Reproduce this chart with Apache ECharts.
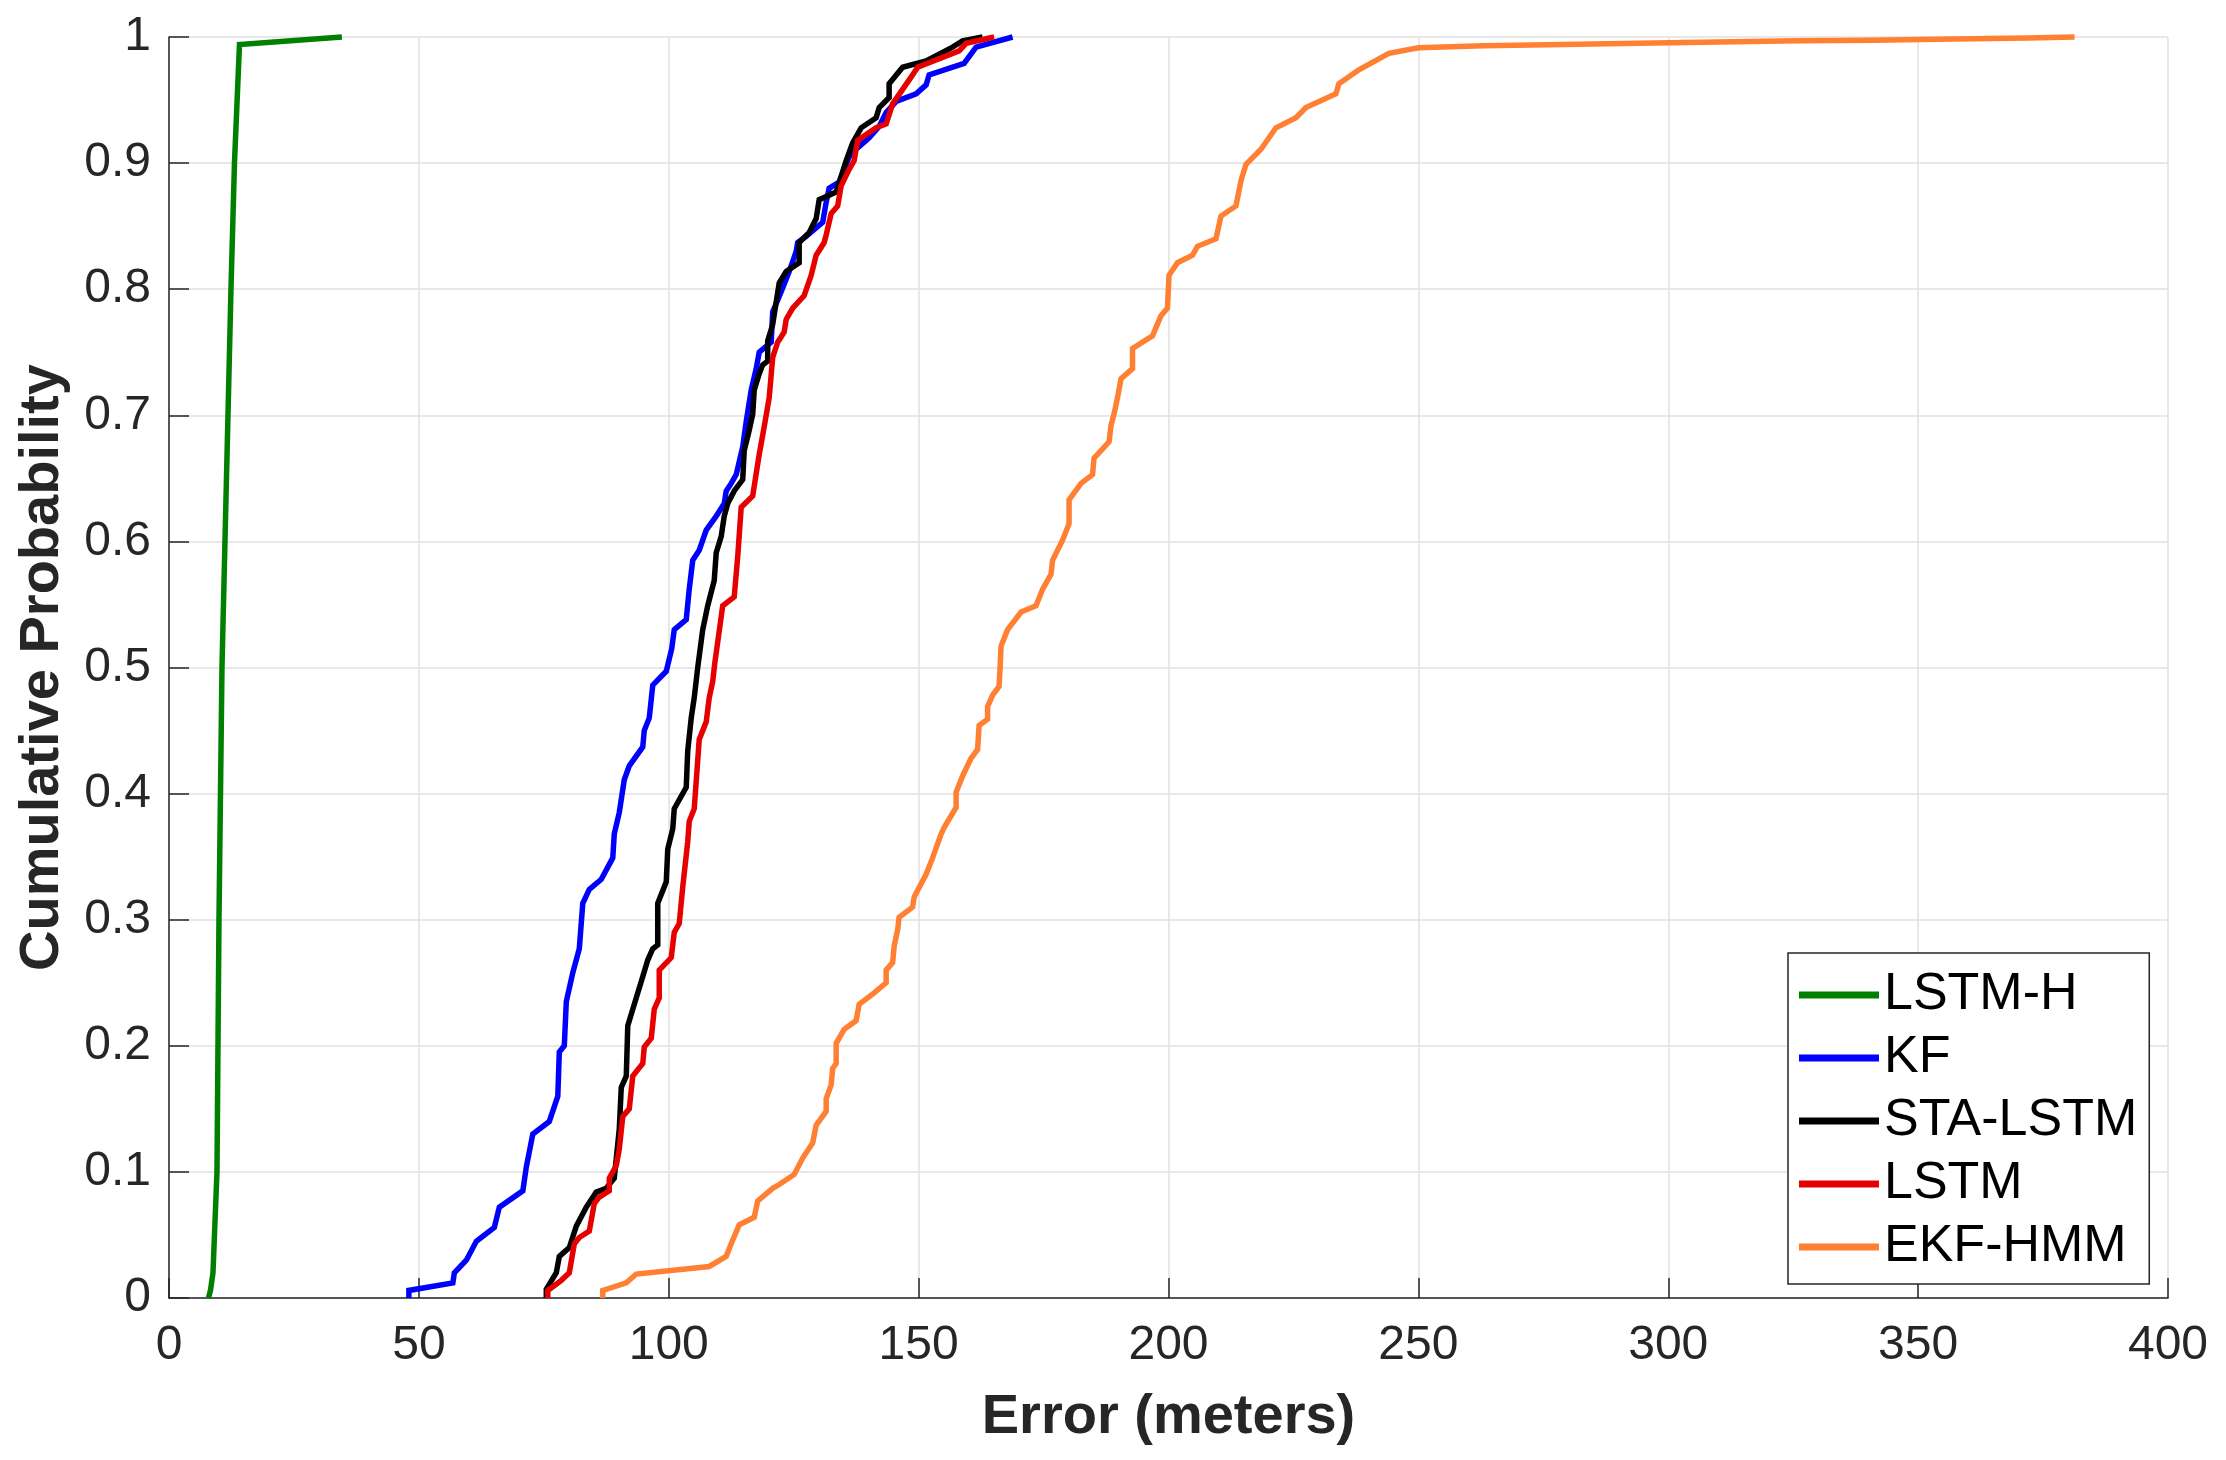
<!DOCTYPE html>
<html>
<head>
<meta charset="utf-8">
<script src="https://cdn.jsdelivr.net/npm/echarts@6/dist/echarts.min.js"></script>
<style>
html,body{margin:0;padding:0;background:#fff;}
#chart{width:2226px;height:1460px;}
</style>
</head>
<body>
<div id="chart"></div>
<script>
const seriesNames = ['LSTM-H', 'KF', 'STA-LSTM', 'LSTM', 'EKF-HMM'];
const xTicks = [0, 50, 100, 150, 200, 250, 300, 350, 400];
const yTicks = [0, 0.1, 0.2, 0.3, 0.4, 0.5, 0.6, 0.7, 0.8, 0.9, 1];

const lstmH = [[7.9,0],[8.3,0.006],[8.8,0.02],[9.6,0.1],[10.0,0.3],[10.6,0.5],[11.8,0.7],[12.4,0.8],[13.1,0.9],[14.1,0.994],[34.6,1.0]];

const kf = [[48,0],[48,0.006],[56.8,0.012],[57.1,0.02],[59.5,0.03],[61.5,0.045],[65.1,0.056],[66.1,0.072],[70.8,0.085],[71.5,0.104],[72.8,0.13],[76.1,0.14],[77.8,0.16],[78.1,0.195],[79.1,0.2],[79.5,0.235],[80.8,0.258],[82.1,0.277],[82.8,0.313],[84.1,0.324],[86.5,0.332],[88.8,0.349],[89.1,0.368],[90.1,0.385],[91.1,0.411],[92.1,0.422],[94.8,0.437],[95.1,0.45],[96.1,0.46],[96.8,0.486],[99.5,0.497],[100.6,0.515],[101.1,0.53],[103.5,0.538],[104.1,0.562],[104.8,0.585],[106.1,0.593],[107.5,0.609],[109.5,0.62],[111.1,0.63],[111.5,0.64],[112.5,0.646],[113.5,0.653],[114.8,0.675],[115.5,0.695],[116.5,0.72],[117.5,0.737],[118.1,0.75],[120.5,0.758],[120.8,0.782],[122.5,0.798],[124.1,0.814],[125.5,0.83],[125.8,0.837],[127.5,0.842],[130.8,0.853],[131.5,0.869],[132.1,0.88],[134.1,0.885],[136.1,0.905],[137.5,0.911],[140.1,0.92],[142.1,0.929],[143.5,0.94],[145.5,0.949],[149.5,0.955],[151.5,0.962],[152.1,0.97],[159.1,0.979],[161.5,0.992],[168.8,1.0]];

const staLstm = [[75.5,0],[75.5,0.007],[77.5,0.02],[78.1,0.033],[80.1,0.04],[81.5,0.057],[83.5,0.072],[85.5,0.084],[87.5,0.087],[89.1,0.095],[90.1,0.134],[90.5,0.167],[91.5,0.176],[91.8,0.216],[92.8,0.229],[94.5,0.251],[95.8,0.268],[96.8,0.277],[97.8,0.28],[97.8,0.313],[99.5,0.33],[99.8,0.356],[100.8,0.372],[101.1,0.388],[103.5,0.405],[103.8,0.434],[104.5,0.46],[105.1,0.476],[105.8,0.5],[106.8,0.53],[107.8,0.549],[109.1,0.569],[109.5,0.591],[110.5,0.604],[111.1,0.62],[111.8,0.63],[113.1,0.64],[114.8,0.649],[115.1,0.672],[116.1,0.688],[116.8,0.701],[117.1,0.72],[118.1,0.733],[118.8,0.74],[119.8,0.743],[119.8,0.759],[120.8,0.772],[122.1,0.805],[123.5,0.814],[126.1,0.821],[126.1,0.837],[128.1,0.845],[129.5,0.856],[130.1,0.871],[133.5,0.877],[135.5,0.902],[136.8,0.916],[138.5,0.928],[141.5,0.936],[142.1,0.944],[144.1,0.952],[144.1,0.963],[146.8,0.976],[151.5,0.981],[156.8,0.992],[158.8,0.997],[162.8,1.0]];

const lstm = [[75.8,0],[75.8,0.006],[78.5,0.014],[80.1,0.02],[81.1,0.043],[82.1,0.048],[84.1,0.053],[85.1,0.075],[86.1,0.08],[88.1,0.085],[88.1,0.095],[89.5,0.105],[90.1,0.118],[90.8,0.144],[92.1,0.15],[92.8,0.176],[94.8,0.186],[95.1,0.199],[96.5,0.206],[97.1,0.229],[98.1,0.238],[98.1,0.26],[100.5,0.27],[101.1,0.29],[102.1,0.297],[102.8,0.326],[103.8,0.362],[104.1,0.378],[105.1,0.388],[106.1,0.443],[107.5,0.457],[108.1,0.476],[108.8,0.489],[109.2,0.503],[110.8,0.549],[113.1,0.556],[113.8,0.588],[114.5,0.627],[116.8,0.636],[118.1,0.669],[119.1,0.691],[120.1,0.714],[120.8,0.746],[121.8,0.758],[123.1,0.766],[123.5,0.776],[124.8,0.785],[127.1,0.795],[128.5,0.811],[129.5,0.827],[131.1,0.837],[131.5,0.843],[132.5,0.86],[133.8,0.866],[134.5,0.882],[136.1,0.895],[137.1,0.902],[137.8,0.918],[141.5,0.928],[143.5,0.931],[144.8,0.947],[148.8,0.97],[149.8,0.976],[158.1,0.989],[159.5,0.995],[165.1,1.0]];

const ekfHmm = [[86.8,0],[86.8,0.006],[91.5,0.012],[93.5,0.019],[108.1,0.025],[111.5,0.033],[112.8,0.046],[114.1,0.058],[117.1,0.064],[117.8,0.077],[120.8,0.087],[122.1,0.09],[125.1,0.098],[126.8,0.111],[128.8,0.123],[129.5,0.137],[131.5,0.148],[131.5,0.158],[132.5,0.169],[132.8,0.182],[133.5,0.186],[133.5,0.202],[135.1,0.213],[137.5,0.22],[138.1,0.233],[141.1,0.242],[143.5,0.25],[143.5,0.26],[144.8,0.266],[145.1,0.279],[145.8,0.292],[146.1,0.302],[148.8,0.31],[149.1,0.318],[151.5,0.336],[152.8,0.349],[153.5,0.357],[154.5,0.368],[155.1,0.373],[157.5,0.389],[157.5,0.401],[158.8,0.414],[160.5,0.428],[161.8,0.435],[162.1,0.454],[163.8,0.459],[163.8,0.469],[164.8,0.478],[166.1,0.485],[166.3,0.5],[166.5,0.517],[167.8,0.53],[170.5,0.544],[173.5,0.549],[174.8,0.562],[176.5,0.574],[176.8,0.585],[178.8,0.601],[180.1,0.614],[180.1,0.633],[182.5,0.646],[184.8,0.653],[185.1,0.666],[188.1,0.679],[188.5,0.692],[189.1,0.701],[189.8,0.714],[190.5,0.729],[192.8,0.737],[192.8,0.753],[196.8,0.763],[198.5,0.779],[199.8,0.785],[200.1,0.811],[201.8,0.821],[204.8,0.827],[205.8,0.834],[209.5,0.84],[210.5,0.858],[213.5,0.866],[214.5,0.886],[215.5,0.899],[218.5,0.911],[221.5,0.928],[225.5,0.936],[227.5,0.944],[233.5,0.955],[234.1,0.963],[238.1,0.974],[244.1,0.987],[250,0.9915],[263,0.993],[279,0.994],[294,0.995],[310,0.996],[326,0.997],[341,0.9975],[357,0.9985],[372,0.9993],[381.3,1.0]];

const seriesData = [lstmH, kf, staLstm, lstm, ekfHmm];
const seriesColors = ['#008000', '#0000ff', '#000000', '#e60000', '#ff8033'];

const chart = echarts.init(document.getElementById('chart'), null, {renderer: 'canvas'});
const font = '"Liberation Sans", Arial, Helvetica, sans-serif';
const axisColor = '#262626';
const gridColor = '#e0e0e0';

chart.setOption({
  backgroundColor: '#ffffff',
  animation: false,
  textStyle: {fontFamily: font},
  grid: {left: 169, top: 37, right: 58, bottom: 162, containLabel: false},
  xAxis: {
    type: 'value',
    min: xTicks[0], max: xTicks[xTicks.length - 1], interval: 50,
    name: 'Error (meters)',
    nameLocation: 'middle',
    nameGap: 92,
    nameTextStyle: {fontSize: 56, fontWeight: 'bold', color: axisColor, fontFamily: font},
    axisLine: {show: true, lineStyle: {color: axisColor, width: 1.5}},
    axisTick: {show: true, inside: true, length: 20, lineStyle: {color: axisColor, width: 1.5}},
    axisLabel: {fontSize: 48, color: axisColor, margin: 24, fontFamily: font},
    splitLine: {show: true, lineStyle: {color: gridColor, width: 1.5}}
  },
  yAxis: {
    type: 'value',
    min: yTicks[0], max: yTicks[yTicks.length - 1], interval: 0.1,
    name: 'Cumulative Probability',
    nameLocation: 'middle',
    nameGap: 98,
    nameTextStyle: {fontSize: 56, fontWeight: 'bold', color: axisColor, fontFamily: font},
    axisLine: {show: true, lineStyle: {color: axisColor, width: 1.5}},
    axisTick: {show: true, inside: true, length: 20, lineStyle: {color: axisColor, width: 1.5}},
    axisLabel: {fontSize: 48, color: axisColor, margin: 18, fontFamily: font,
      formatter: v => String(Math.round(v * 10) / 10)},
    splitLine: {show: true, lineStyle: {color: gridColor, width: 1.5}}
  },
  legend: {
    show: true,
    orient: 'vertical',
    left: 1788, top: 953,
    data: seriesNames,
    icon: 'rect',
    itemWidth: 80, itemHeight: 7,
    itemGap: 5,
    itemStyle: {borderWidth: 0},
    padding: [13, 12, 8, 11],
    borderColor: axisColor, borderWidth: 1.5,
    backgroundColor: '#ffffff',
    textStyle: {fontSize: 52, color: '#000000', lineHeight: 58, fontFamily: font}
  },
  series: seriesNames.map((n, i) => ({
    name: n,
    type: 'line',
    data: seriesData[i],
    showSymbol: false,
    symbol: 'none',
    clip: false,
    color: seriesColors[i],
    lineStyle: {color: seriesColors[i], width: 5.5, join: 'miter'}
  }))
});
</script>
</body>
</html>
